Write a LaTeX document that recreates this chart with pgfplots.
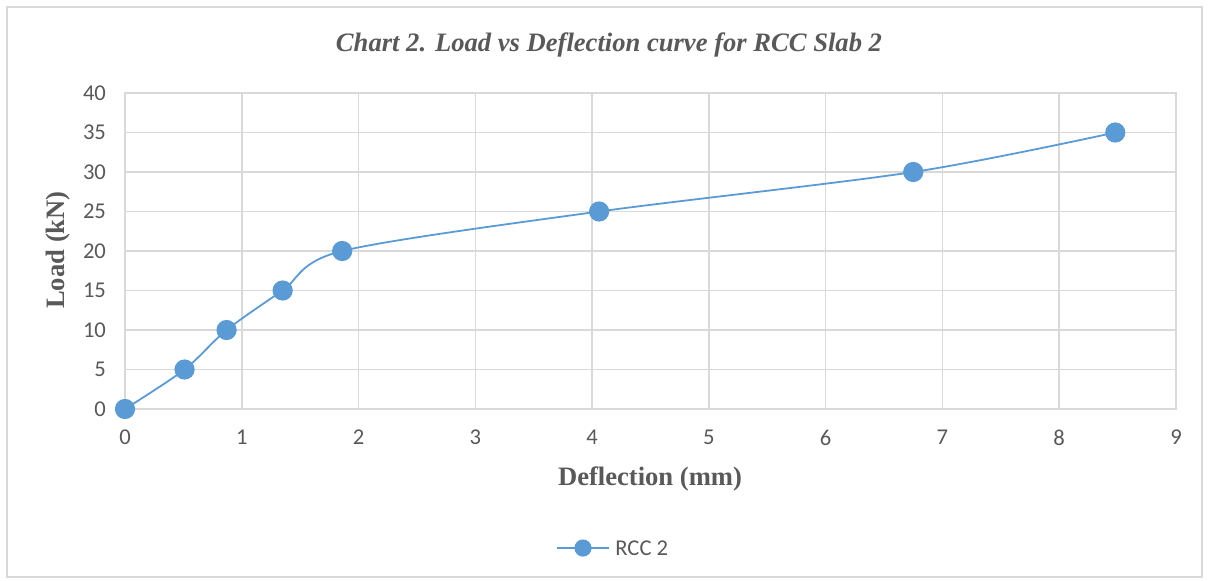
\documentclass[border=0pt]{standalone}
\usepackage{pgfplots}
\pgfplotsset{compat=1.18}
\usepackage{fontspec}
\setmainfont{Carlito}
\newfontfamily\tnr{Liberation Serif}
\usetikzlibrary{shadows}
\definecolor{ser}{HTML}{5B9BD5}
\definecolor{gridc}{HTML}{D9D9D9}
\definecolor{txt}{HTML}{595959}
\begin{document}
\begin{tikzpicture}
\useasboundingbox (-62.5pt,-85.5pt) rectangle (542pt,204.5pt);
\draw[gridc, line width=0.8pt] (-59pt,-84pt) rectangle (538.5pt,201pt);
\begin{axis}[
  at={(0pt,0pt)}, anchor=origin,
  scale only axis, width=525.5pt, height=158pt,
  xmin=0, xmax=9, ymin=0, ymax=40,
  xtick={0,1,...,9}, ytick={0,5,...,40},
  grid=major, major grid style={gridc, line width=0.8pt},
  axis line style={gridc, line width=0.8pt},
  tick style={draw=none},
  ticklabel style={font=\fontsize{11.3pt}{13pt}\selectfont, text=txt},
  /pgf/number format/assume math mode=true,
  xticklabel style={yshift=-7pt},
  yticklabel style={xshift=-6pt},
  clip=false,
]
\addplot[ser, line width=0.9pt, smooth, tension=0.5,
  mark=*, mark size=4.6pt,
  mark options={fill=ser, draw=ser, drop shadow={opacity=0.25, shadow xshift=0.6pt, shadow yshift=-0.9pt}}]
  coordinates {(0,0) (0.51,5) (0.87,10) (1.35,15) (1.86,20) (4.06,25) (6.75,30) (8.48,35)};
\end{axis}
\node[font=\tnr\bfseries\itshape\fontsize{13.3pt}{15pt}\selectfont, text=txt] at (242pt,182pt) {Chart 2. Load vs Deflection curve for RCC Slab 2};
\node[font=\tnr\bfseries\fontsize{13.3pt}{15pt}\selectfont, text=txt] at (262.5pt,-35pt) {Deflection (mm)};
\node[font=\tnr\bfseries\fontsize{13.3pt}{15pt}\selectfont, text=txt, rotate=90] at (-33.5pt,79.5pt) {Load (kN)};
\draw[ser, line width=0.9pt] (216pt,-69.5pt) -- (242pt,-69.5pt);
\fill[ser] (229pt,-69.5pt) circle (4.3pt);
\node[font=\fontsize{11.3pt}{13pt}\selectfont, text=txt, anchor=west, inner sep=0pt] at (245pt,-69.5pt) {RCC 2};
\end{tikzpicture}
\end{document}
